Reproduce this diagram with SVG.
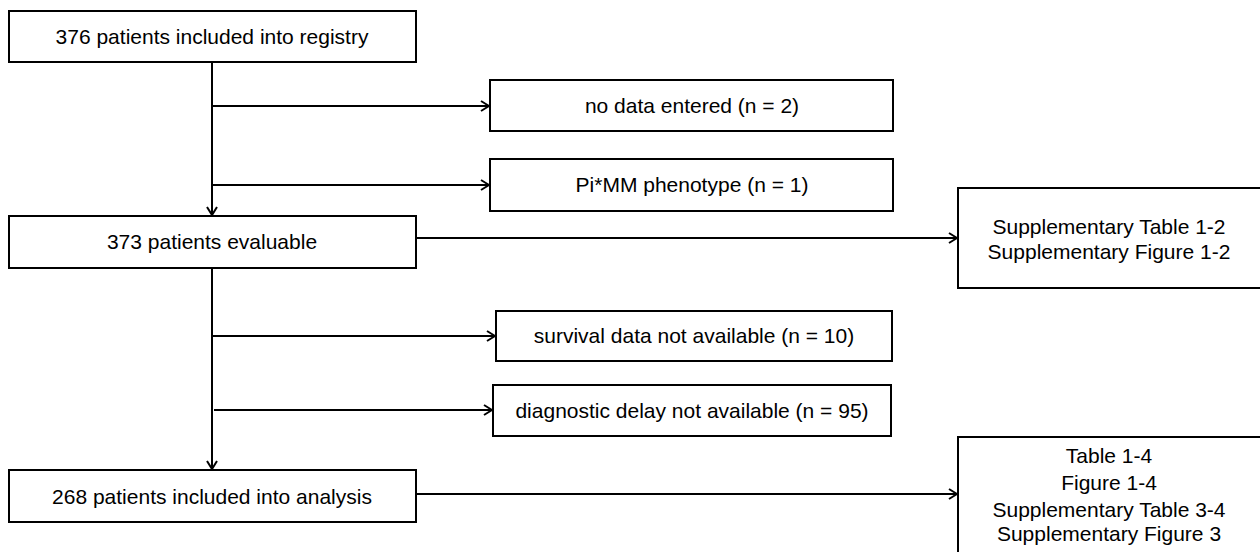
<svg xmlns="http://www.w3.org/2000/svg" width="1260" height="552" viewBox="0 0 1260 552">
<style>
.box{fill:#fff;stroke:#000;stroke-width:2}
.t{font-family:"Liberation Sans",Arial,sans-serif;font-size:21px;fill:#000;text-anchor:middle}
.c{stroke:#000;stroke-width:2;fill:none}
</style>
<defs>
<marker id="ah" viewBox="0 0 10 12" refX="9" refY="6" markerWidth="10" markerHeight="12" markerUnits="userSpaceOnUse" orient="auto">
<polyline points="1,1 9,6 1,11" fill="none" stroke="#000" stroke-width="2"/>
</marker>
</defs>
<rect width="1260" height="552" fill="#fff"/>
<g id="connectors">
<line class="c" x1="212" y1="62" x2="212" y2="215" marker-end="url(#ah)"/>
<line class="c" x1="212" y1="106" x2="489" y2="106" marker-end="url(#ah)"/>
<line class="c" x1="212" y1="185" x2="489" y2="185" marker-end="url(#ah)"/>
<line class="c" x1="416" y1="238" x2="957" y2="238" marker-end="url(#ah)"/>
<line class="c" x1="212" y1="268" x2="212" y2="469" marker-end="url(#ah)"/>
<line class="c" x1="212" y1="336" x2="495" y2="336" marker-end="url(#ah)"/>
<line class="c" x1="214" y1="410" x2="492" y2="410" marker-end="url(#ah)"/>
<line class="c" x1="416" y1="494" x2="957" y2="494" marker-end="url(#ah)"/>
</g>
<g id="n1"><rect class="box" x="9" y="11" width="407" height="51"/><text class="t" x="212" y="44">376 patients included into registry</text></g>
<g id="n2"><rect class="box" x="490" y="80" width="403" height="51"/><text class="t" x="692" y="113">no data entered (n = 2)</text></g>
<g id="n3"><rect class="box" x="490" y="159" width="403" height="52"/><text class="t" x="692" y="192">Pi*MM phenotype (n = 1)</text></g>
<g id="n4"><rect class="box" x="9" y="216" width="407" height="52"/><text class="t" x="212" y="249">373 patients evaluable</text></g>
<g id="n5"><rect class="box" x="958" y="188" width="303" height="100"/><text class="t" x="1109" y="234">Supplementary Table 1-2</text><text class="t" x="1109" y="259">Supplementary Figure 1-2</text></g>
<g id="n6"><rect class="box" x="496" y="311" width="396" height="50"/><text class="t" x="694" y="343">survival data not available (n = 10)</text></g>
<g id="n7"><rect class="box" x="493" y="385" width="398" height="51"/><text class="t" x="692" y="418">diagnostic delay not available (n = 95)</text></g>
<g id="n8"><rect class="box" x="9" y="470" width="407" height="52"/><text class="t" x="212" y="504">268 patients included into analysis</text></g>
<g id="n9"><rect class="box" x="958" y="437" width="303" height="118"/><text class="t" x="1109" y="463">Table 1-4</text><text class="t" x="1109" y="490">Figure 1-4</text><text class="t" x="1109" y="517">Supplementary Table 3-4</text><text class="t" x="1109" y="541">Supplementary Figure 3</text></g>
</svg>
